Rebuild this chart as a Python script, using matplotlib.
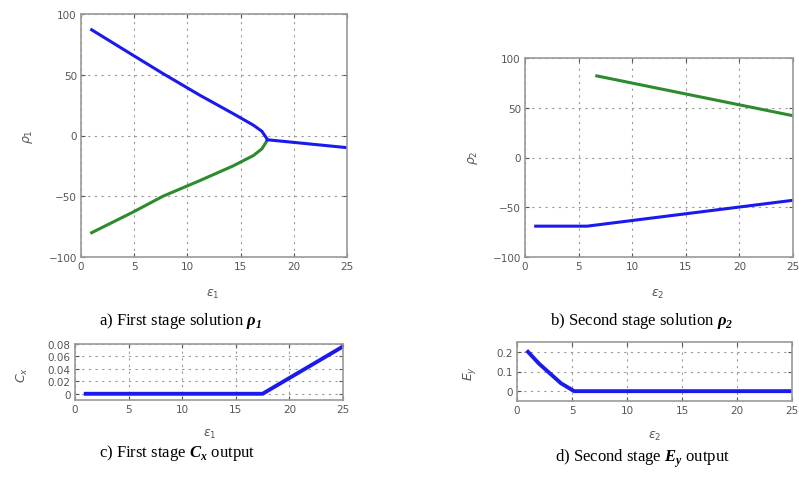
import numpy as np
import matplotlib.pyplot as plt

plt.rcParams['mathtext.fontset'] = 'custom'
plt.rcParams['mathtext.rm'] = 'DejaVu Sans'
plt.rcParams['mathtext.it'] = 'DejaVu Sans:italic'
plt.rcParams['mathtext.bf'] = 'Liberation Serif:bold:italic'

# panel a: first stage solution rho_1 vs eps_1
a_eps = [1, 4.9, 7.7, 11.2, 14.3, 16.2, 17.0, 17.5]
a_upper = [87, 66, 51, 33, 18, 8.5, 3.5, -3]
a_lower = [-80, -63, -50, -37, -25, -16.5, -11, -4]
a_tail_eps = [17.5, 25]
a_tail = [-3.5, -10]

# panel b: second stage solution rho_2 vs eps_2
b_green_eps = [6.7, 25]
b_green = [82, 42]
b_blue_eps = [1, 5.8, 25]
b_blue = [-69, -69, -43]

# panel c: first stage C_x output
c_eps = [1, 17.5, 25]
c_val = [0, 0, 0.076]

# panel d: second stage E_y output
d_eps = [1, 2, 3, 4, 5.2, 25]
d_val = [0.2, 0.14, 0.09, 0.04, 0, 0]

W, H = 799, 481
fig = plt.figure(figsize=(7.99, 4.81), dpi=100)

def box(l, t, r, b):
    return [l / W, 1 - b / H, (r - l) / W, (b - t) / H]

def style(ax, yticks, ylim):
    ax.set_xlim(0, 25)
    ax.set_ylim(*ylim)
    ax.set_xticks([0, 5, 10, 15, 20, 25])
    ax.set_yticks(yticks)
    ax.grid(True, color='#999999', linestyle=(0, (2, 4)), linewidth=0.8)
    ax.tick_params(labelsize=7.5, colors='#555555', direction='in', length=3, pad=3,
                   top=True, right=True)
    for s in ax.spines.values():
        s.set_color('#9a9a9a')
        s.set_linewidth(1.2)

blue = '#1a1aee'
green = '#2d8a2d'

ax = fig.add_axes(box(81, 15, 347, 258))
ax.plot(a_eps, a_upper, color=blue, lw=2.2)
ax.plot(a_eps, a_lower, color=green, lw=2.2)
ax.plot(a_tail_eps, a_tail, color=blue, lw=2.2)
style(ax, [-100, -50, 0, 50, 100], (-100, 100))

ax = fig.add_axes(box(525, 59, 793, 258))
ax.plot(b_green_eps, b_green, color=green, lw=2.2)
ax.plot(b_blue_eps, b_blue, color=blue, lw=2.2)
style(ax, [-100, -50, 0, 50, 100], (-100, 100))

ax = fig.add_axes(box(75, 345, 343, 401))
ax.plot(c_eps, c_val, color=blue, lw=2.8)
style(ax, [0, 0.02, 0.04, 0.06, 0.08], (-0.01, 0.08))
ax.set_yticklabels(['0', '0.02', '0.04', '0.06', '0.08'])

ax = fig.add_axes(box(517, 343, 792, 402))
ax.plot(d_eps, d_val, color=blue, lw=2.8)
style(ax, [0, 0.1, 0.2], (-0.05, 0.25))
ax.set_yticklabels(['0', '0.1', '0.2'])

# axis labels
lab = dict(color='#555555', fontsize=9, ha='center', va='center')
fig.text(28 / W, 1 - 137 / H, r'$\rho_1$', rotation=90, **lab)
fig.text(213 / W, 1 - 294 / H, r'$\epsilon_1$', **lab)
fig.text(473 / W, 1 - 158 / H, r'$\rho_2$', rotation=90, **lab)
fig.text(658 / W, 1 - 294 / H, r'$\epsilon_2$', **lab)
fig.text(22 / W, 1 - 375 / H, r'$C_x$', rotation=90, **lab)
fig.text(210 / W, 1 - 434 / H, r'$\epsilon_1$', **lab)
fig.text(470 / W, 1 - 373 / H, r'$E_y$', rotation=90, **lab)
fig.text(655 / W, 1 - 436 / H, r'$\epsilon_2$', **lab)

# captions
cap = dict(fontsize=12, ha='center', va='center', family='Liberation Serif')
fig.text(181 / W, 1 - 321 / H, r'a) First stage solution $\mathbf{\rho}_\mathbf{1}$', **cap)
fig.text(642 / W, 1 - 321 / H, r'b) Second stage solution $\mathbf{\rho}_\mathbf{2}$', **cap)
fig.text(177 / W, 1 - 453 / H, r'c) First stage $\mathbf{C}_\mathbf{x}$ output', **cap)
fig.text(642 / W, 1 - 459 / H, r'd) Second stage $\mathbf{E}_\mathbf{y}$ output', **cap)

fig.savefig('out.png', dpi=100)
